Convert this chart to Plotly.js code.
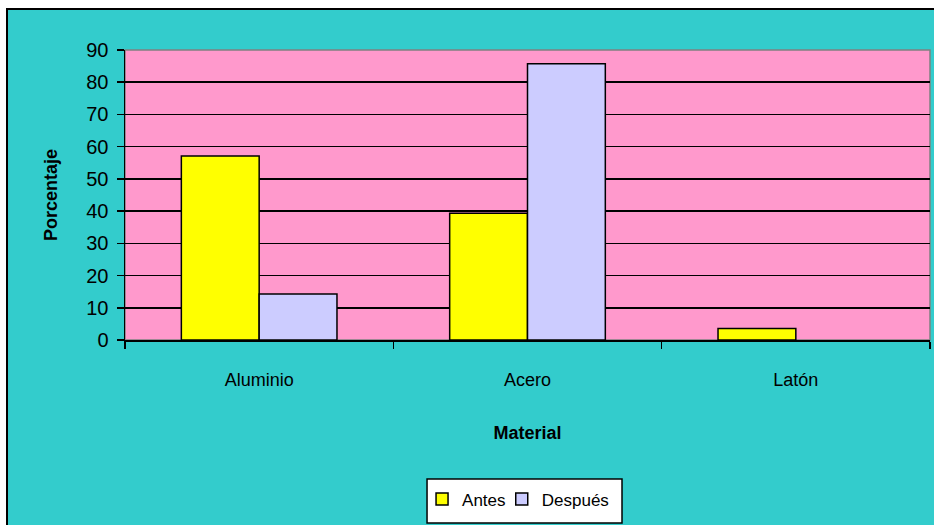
<!DOCTYPE html>
<html>
<head>
<meta charset="utf-8">
<script src="https://cdn.plot.ly/plotly-3.0.1.min.js"></script>
<style>
  html, body { margin: 0; padding: 0; background: #ffffff; width: 934px; height: 525px; overflow: hidden; }
  #frame {
    position: absolute; left: 6px; top: 8px;
    border-top: 2px solid #000; border-left: 2px solid #000;
    width: 926px; height: 515px;
  }
  #chart { width: 926px; height: 515px; }
</style>
</head>
<body>
<div id="frame"><div id="chart"></div></div>
<script>
// Material distribution (%) before and after
const materiales = ['Aluminio', 'Acero', 'Latón'];
const antes = [57.1, 39.3, 3.6];
const despues = [14.3, 85.7, 0];
const yTicks = [0, 10, 20, 30, 40, 50, 60, 70, 80, 90];

const font = 'Liberation Sans, Arial, sans-serif';

// no outline on empty bars
const outline = vals => vals.map(v => (v > 0 ? 1.5 : 0));

const traces = [
  {
    type: 'bar', name: 'Antes', x: materiales, y: antes, legend: 'legend',
    marker: { color: '#FFFF00', line: { color: '#000000', width: outline(antes) } }
  },
  {
    type: 'bar', name: 'Después', x: materiales, y: despues, legend: 'legend2',
    marker: { color: '#CCCCFF', line: { color: '#000000', width: outline(despues) } }
  }
];

// one shared boxed key, each entry placed on its own
const legendStyle = {
  orientation: 'h',
  xanchor: 'left', yanchor: 'top', y: -0.488,
  bgcolor: 'rgba(0,0,0,0)', borderwidth: 0,
  font: { family: font, size: 17, color: '#000000' },
  itemwidth: 30
};

const layout = {
  width: 926, height: 515,
  margin: { l: 117, r: 4, t: 40, b: 185 },
  paper_bgcolor: '#33CCCC',
  plot_bgcolor: '#FF99CC',
  font: { family: font, color: '#000000', size: 18 },
  barmode: 'group',
  bargap: 0.42,
  bargroupgap: 0,
  showlegend: true,
  legend: Object.assign({}, legendStyle, { x: 0.369 }),
  legend2: Object.assign({}, legendStyle, { x: 0.468 }),
  xaxis: {
    type: 'category',
    showline: true, linecolor: '#000000', linewidth: 1.5,
    ticks: 'outside', tickson: 'boundaries', ticklen: 7, tickwidth: 1.5, tickcolor: '#000000',
    tickfont: { family: font, size: 18 },
    ticklabelstandoff: 23,
    showgrid: false, zeroline: false,
    title: { text: 'Material', font: { family: font, size: 18, weight: 'bold' }, standoff: 37 }
  },
  yaxis: {
    range: [0, 90],
    tickvals: yTicks,
    ticktext: yTicks.map(String),
    showline: true, linecolor: '#000000', linewidth: 1.5,
    ticks: 'outside', ticklen: 7, tickwidth: 1.5, tickcolor: '#000000',
    tickfont: { family: font, size: 20 },
    ticklabelstandoff: 4,
    showgrid: true, gridcolor: '#000000', gridwidth: 1.5,
    zeroline: false,
    title: { text: 'Porcentaje', font: { family: font, size: 18, weight: 'bold' }, standoff: 24 }
  },
  shapes: [
    {
      type: 'rect', xref: 'paper', yref: 'paper', x0: 0, x1: 1, y0: 0, y1: 1,
      line: { color: '#808080', width: 1.5 }, layer: 'below'
    },
    {
      type: 'rect', xref: 'paper', yref: 'paper', x0: 0.3752, x1: 0.6174, y0: -0.631, y1: -0.479,
      fillcolor: '#FFFFFF', line: { color: '#000000', width: 1.5 }, layer: 'below'
    }
  ]
};

Plotly.newPlot('chart', traces, layout, { displayModeBar: false, staticPlot: true });
</script>
</body>
</html>
